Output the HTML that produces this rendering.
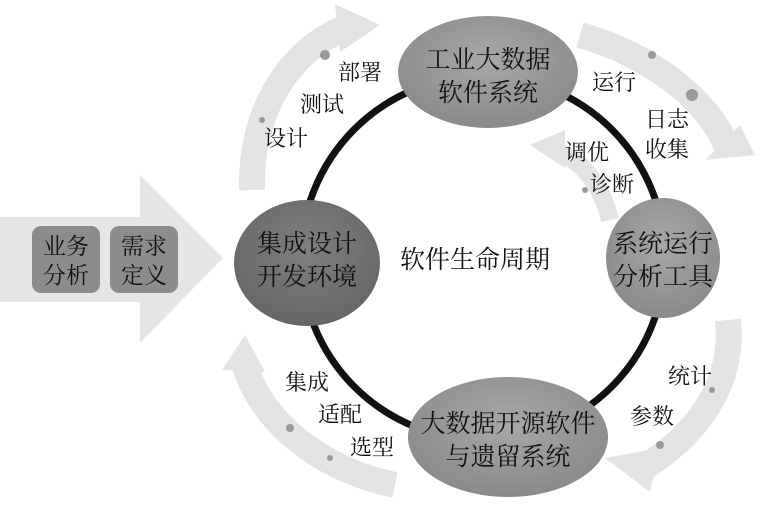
<!DOCTYPE html>
<html><head><meta charset="utf-8"><style>
body{margin:0;background:#fff}
svg text{font-family:"Liberation Serif","Noto Serif CJK SC",serif;fill:#111}
</style></head><body>
<svg width="767" height="512" viewBox="0 0 767 512">
<defs>
<radialGradient id="g1" cx="50%" cy="40%" r="60%"><stop offset="0" stop-color="#a8a8a8"/><stop offset="1" stop-color="#8a8a8a"/></radialGradient>
<radialGradient id="g2" cx="50%" cy="40%" r="60%"><stop offset="0" stop-color="#808080"/><stop offset="1" stop-color="#666"/></radialGradient>
</defs>
<polygon points="0,217 140,217 140,175 223,258 140,343 140,302 0,302" fill="#e6e6e6"/>
<rect x="32" y="226" width="68" height="67" rx="9" fill="#8c8c8c"/>
<rect x="110" y="226" width="68" height="67" rx="9" fill="#8c8c8c"/>
<text x="66" y="254" font-size="23" text-anchor="middle">业务</text>
<text x="66" y="283" font-size="23" text-anchor="middle">分析</text>
<text x="144" y="254" font-size="23" text-anchor="middle">需求</text>
<text x="144" y="283" font-size="23" text-anchor="middle">定义</text>
<g fill="none" stroke="#e4e4e4" stroke-linecap="butt">
<path d="M252,190 C250,110 290,50 345,28" stroke-width="26"/>
<path d="M580,35 C650,55 710,100 728,150" stroke-width="26"/>
<path d="M728,320 C735,390 690,440 640,470" stroke-width="26"/>
<path d="M395,485 C320,470 260,420 245,365" stroke-width="26"/>
<path d="M610,220 C600,180 580,160 555,150" stroke-width="18"/>
</g>
<g fill="#e4e4e4">
<polygon points="335,4 380,25 340,52"/>
<polygon points="705,160 755,155 740,125"/>
<polygon points="605,458 650,492 660,448"/>
<polygon points="222,370 265,372 245,335"/>
<polygon points="530,145 565,130 565,168"/>
</g>
<g fill="#9a9a9a">
<circle cx="325" cy="55" r="5"/><circle cx="262" cy="120" r="3"/><circle cx="652" cy="55" r="4"/>
<circle cx="692" cy="95" r="6"/><circle cx="712" cy="390" r="3"/><circle cx="660" cy="445" r="4"/>
<circle cx="290" cy="428" r="4"/><circle cx="330" cy="458" r="3"/><circle cx="585" cy="190" r="3"/>
</g>
<circle cx="483" cy="258" r="182" fill="none" stroke="#111" stroke-width="7"/>
<ellipse cx="488" cy="72" rx="90" ry="56" fill="url(#g1)"/>
<ellipse cx="307" cy="263" rx="73" ry="63" fill="url(#g2)"/>
<ellipse cx="663" cy="258" rx="57" ry="60" fill="url(#g1)"/>
<ellipse cx="508" cy="437" rx="100" ry="60" fill="url(#g1)"/>
<g font-size="25" text-anchor="middle">
<text x="488" y="68">工业大数据</text><text x="488" y="101">软件系统</text>
<text x="307" y="252">集成设计</text><text x="307" y="285">开发环境</text>
<text x="663" y="252">系统运行</text><text x="663" y="285">分析工具</text>
<text x="508" y="432">大数据开源软件</text><text x="508" y="465">与遗留系统</text>
<text x="475" y="268">软件生命周期</text>
</g>
<g font-size="22">
<text x="338" y="80">部署</text><text x="300" y="112">测试</text><text x="264" y="146">设计</text>
<text x="592" y="90">运行</text><text x="645" y="127">日志</text><text x="645" y="157">收集</text>
<text x="565" y="160">调优</text><text x="590" y="192">诊断</text>
<text x="668" y="384">统计</text><text x="630" y="424">参数</text>
<text x="285" y="390">集成</text><text x="318" y="422">适配</text><text x="350" y="455">选型</text>
</g>
</svg>
</body></html>
